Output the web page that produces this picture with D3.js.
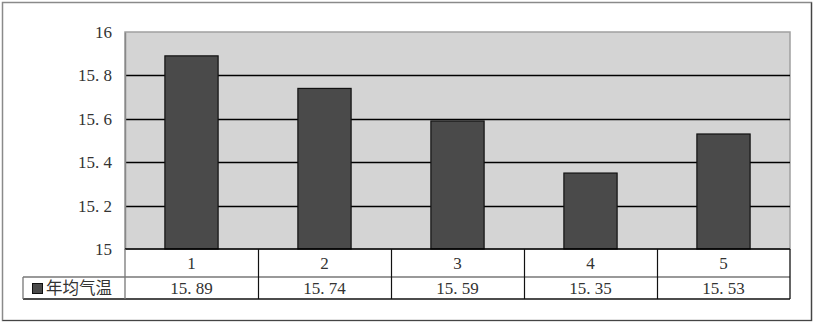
<!DOCTYPE html>
<html><head><meta charset="utf-8">
<script src="https://cdn.jsdelivr.net/npm/d3@7"></script>
<style>body{margin:0;background:#fff}svg{display:block}</style>
</head><body>
<script>
const categories = ["1","2","3","4","5"];
const values = [15.89, 15.74, 15.59, 15.35, 15.53];
const valueLabels = ["15.89","15.74","15.59","15.35","15.53"];
const yTicks = [15, 15.2, 15.4, 15.6, 15.8, 16];
const yTickLabels = ["15","15.2","15.4","15.6","15.8","16"];
const seriesName = "年均气温";

(function(){
const W = 814, H = 323;
const svg = d3.select("body").append("svg").attr("width", W).attr("height", H);
const pL = 125, pR = 790, pT = 32, pB = 249;
const row1 = 277, row2 = 299, legendLeft = 23;
const numFont = "'Liberation Serif','DejaVu Serif',serif";

// outer frame
svg.append("rect").attr("x",2.5).attr("y",2.5).attr("width",W-5).attr("height",H-5)
  .attr("fill","#fff").attr("stroke","#8a8a8a").attr("stroke-width",1.5);
svg.append("path").attr("d",`M${W-2.5},2.5V${H-2.5}H2.5`).attr("fill","none").attr("stroke","#444").attr("stroke-width",1.2);

const x = d3.scaleBand().domain(categories).range([pL, pR]).paddingInner(0.6).paddingOuter(0.3);
const xCell = d3.scaleBand().domain(categories).range([pL, pR]);
const y = d3.scaleLinear().domain([15, 16]).range([pB, pT]);

// plot background
svg.append("rect").attr("x",pL).attr("y",pT).attr("width",pR-pL).attr("height",pB-pT)
  .attr("fill","#d4d4d4").attr("stroke","#a0a0a0").attr("stroke-width",1.5);

// gridlines
svg.append("g").selectAll("line").data(yTicks.filter(t=>t>15 && t<16)).join("line")
  .attr("x1",pL).attr("x2",pR).attr("y1",d=>Math.round(y(d))+0.5).attr("y2",d=>Math.round(y(d))+0.5)
  .attr("stroke","#000").attr("stroke-width",1.3);

// y axis via d3 axis
const yAxis = d3.axisLeft(y).tickValues(yTicks).tickSize(0).tickPadding(13)
  .tickFormat((d,i)=>yTickLabels[i].replace(".", ". "));
const ya = svg.append("g").attr("transform",`translate(${pL},0)`).call(yAxis)
  .attr("font-family",numFont).attr("font-size",17);
ya.select(".domain").attr("stroke","#888").attr("stroke-width",1.5);
ya.selectAll("text").style("font-family",numFont).style("font-size","17px").attr("fill","#333");

// bars
svg.append("g").selectAll("rect").data(values).join("rect")
  .attr("x",(d,i)=>x(categories[i])).attr("width",x.bandwidth())
  .attr("y",d=>y(d)).attr("height",d=>pB-y(d))
  .attr("fill","#4a4a4a").attr("stroke","#111").attr("stroke-width",1.2);

// data table
const t = svg.append("g");
t.append("line").attr("x1",pL).attr("x2",pR).attr("y1",pB).attr("y2",pB).attr("stroke","#000").attr("stroke-width",1.5);
t.append("line").attr("x1",legendLeft).attr("x2",pR).attr("y1",row1).attr("y2",row1).attr("stroke","#777").attr("stroke-width",1.6);
t.append("line").attr("x1",legendLeft).attr("x2",pR).attr("y1",row2).attr("y2",row2).attr("stroke","#111").attr("stroke-width",1.3);
t.append("line").attr("x1",legendLeft).attr("x2",legendLeft).attr("y1",row1).attr("y2",row2).attr("stroke","#777").attr("stroke-width",1.3);
t.append("line").attr("x1",pL).attr("x2",pL).attr("y1",pB).attr("y2",row2).attr("stroke","#777").attr("stroke-width",1.3);
t.append("line").attr("x1",pR).attr("x2",pR).attr("y1",pB).attr("y2",row2).attr("stroke","#111").attr("stroke-width",1.3);
t.selectAll(".vl").data(categories.slice(1)).join("line").attr("class","vl")
  .attr("x1",d=>Math.round(xCell(d))+0.5).attr("x2",d=>Math.round(xCell(d))+0.5)
  .attr("y1",pB).attr("y2",row2).attr("stroke","#111").attr("stroke-width",1.2);
t.selectAll(".cl").data(categories).join("text").attr("class","cl")
  .attr("x",d=>xCell(d)+xCell.bandwidth()/2).attr("y",(pB+row1)/2+6)
  .attr("text-anchor","middle").attr("font-family",numFont).attr("font-size",17).attr("fill","#333").text(d=>d);
t.selectAll(".vlb").data(valueLabels).join("text").attr("class","vlb")
  .attr("x",(d,i)=>xCell(categories[i])+xCell.bandwidth()/2).attr("y",(row1+row2)/2+6)
  .attr("text-anchor","middle").attr("font-family",numFont).attr("font-size",17).attr("fill","#333")
  .text(d=>d.replace(".", ". "));
// legend
t.append("rect").attr("x",32.5).attr("y",283.5).attr("width",10).attr("height",10)
  .attr("fill","#4a4a4a").attr("stroke","#111").attr("stroke-width",1);
t.append("text").attr("x",46).attr("y",294).attr("font-family","'Noto Sans CJK SC',sans-serif")
  .attr("font-size",16.5).attr("fill","#333").text(seriesName);
})();
</script>
</body></html>
